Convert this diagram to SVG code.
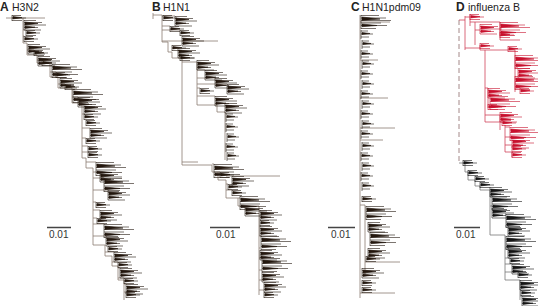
<svg xmlns="http://www.w3.org/2000/svg" xmlns:xlink="http://www.w3.org/1999/xlink" width="538" height="306" viewBox="0 0 538 306">
<style>
.lbl{font-family:"Liberation Sans",Arial,sans-serif;font-size:10.5px;fill:#222}
.bold{font-weight:bold;font-size:12px}
.sc{font-family:"Liberation Sans",Arial,sans-serif;font-size:10px;fill:#333333}
.bar{stroke:#444;stroke-width:1.4;fill:none}
.br{fill:none;stroke:#8a7b72;stroke-width:0.8}
.lv{fill:#24180f;stroke:#24180f;stroke-width:0.6}
.brr{fill:none;stroke:#d0455a;stroke-width:0.8}
.lvr{fill:#c8102e;stroke:#c8102e;stroke-width:0.6}
.brk{fill:none;stroke:#777;stroke-width:0.8}
.lvk{fill:#151515;stroke:#151515;stroke-width:0.6}
</style>
<defs>
<path id="k1" d="M0,0V10M0,0.5h12M0,2.5h18M0,5h22M0,7.5h14M0,10h17M1,2l13,1.5l-13,1.5zM1,6l10,1.2l-10,1.2z"/>
<path id="k2" d="M0,0V6M0,0.5h9M0,3h14M0,5.5h10M1,1.5l9,1.2l-9,1.2z"/>
<path id="k3" d="M0,0V14M0,0.5h18M0,3h25M0,5.5h30M0,8h20M0,10.5h26M0,13.5h15M1,2l18,2l-18,1.5zM1,9l15,1.5l-15,1.2z"/>
<path id="k4" d="M0,0V9M0,1h7M0,4h12M0,7h8M1,2.5l8,1l-8,1z"/>
</defs>

<g id="labels">
<text class="lbl bold" x="0" y="10.5">A</text><text class="lbl" x="12" y="10.5">H3N2</text>
<text class="lbl bold" x="152" y="10.5">B</text><text class="lbl" x="163" y="10.5">H1N1</text>
<text class="lbl bold" x="351" y="10.5">C</text><text class="lbl" x="362" y="10.5">H1N1pdm09</text>
<text class="lbl bold" x="456" y="10.5">D</text><text class="lbl" x="468" y="10.5">influenza B</text>
</g>

<g id="scales">
<path class="bar" d="M47,227.5H71M210,227.5H240M328,227.5H355M454,227.5H480"/>
<text class="sc" x="49" y="238">0.01</text>
<text class="sc" x="216" y="238">0.01</text>
<text class="sc" x="331" y="238">0.01</text>
<text class="sc" x="456" y="238">0.01</text>
</g>

<g id="treeA">
<path class="br" d="M6,18H45M23,18V43H27V55H37V63H50V77H58V88H72V103H82V158H86V168H93V245H105V256H112V266H118V280H124V300M23,30H26M23,36H24M27,50H34M37,60H42M50,72H56M58,84H65M72,97H78M82,114H84M82,128H90M82,138H86M82,146H88M82,152H88M86,162H96M93,172H100M93,178H104M93,190H108M93,202H96M93,210H100M93,218H97M93,224H104M93,236H106M105,252H114M112,262H118M118,268H120M118,278H124M124,284H126M124,292H126"/>
<g class="lv">
<use xlink:href="#k2" x="12" y="15"/><use xlink:href="#k1" x="24" y="20"/><use xlink:href="#k2" x="26" y="30"/><use xlink:href="#k2" x="24" y="36"/>
<use xlink:href="#k1" x="28" y="44"/><use xlink:href="#k2" x="34" y="50"/><use xlink:href="#k1" x="38" y="56"/><use xlink:href="#k2" x="42" y="60"/>
<use xlink:href="#k3" x="52" y="64"/><use xlink:href="#k2" x="56" y="72"/><use xlink:href="#k1" x="60" y="78"/><use xlink:href="#k2" x="65" y="84"/>
<use xlink:href="#k3" x="73" y="89"/><use xlink:href="#k1" x="78" y="97"/><use xlink:href="#k1" x="84" y="104"/><use xlink:href="#k2" x="84" y="114"/>
<use xlink:href="#k2" x="86" y="120"/><use xlink:href="#k1" x="90" y="128"/><use xlink:href="#k2" x="86" y="138"/><use xlink:href="#k2" x="88" y="146"/>
<use xlink:href="#k2" x="88" y="152"/><use xlink:href="#k3" x="96" y="162"/><use xlink:href="#k1" x="100" y="172"/><use xlink:href="#k3" x="104" y="178"/>
<use xlink:href="#k1" x="108" y="190"/><use xlink:href="#k2" x="96" y="202"/><use xlink:href="#k1" x="100" y="210"/><use xlink:href="#k2" x="97" y="218"/>
<use xlink:href="#k3" x="104" y="224"/><use xlink:href="#k1" x="106" y="236"/><use xlink:href="#k2" x="108" y="246"/><use xlink:href="#k1" x="114" y="252"/>
<use xlink:href="#k2" x="118" y="262"/><use xlink:href="#k1" x="120" y="268"/><use xlink:href="#k2" x="124" y="278"/><use xlink:href="#k1" x="126" y="284"/>
<use xlink:href="#k2" x="126" y="292"/>
</g>
</g>

<g id="treeB">
<path class="br" d="M153,13V19M153,15H162V42H168V52H172V58H182V165M162,41H218M182,62H197V105H217V112H225V160M182,162H198M182,165H212V172H218V180H226V198H238V206H259V295M226,176H280M162,16H175M162,26H170M162,30H180M172,48H178M182,55H180M197,70H205M197,78H215M197,84H227M197,88H200M197,96H215M212,164H214M218,172H220M226,184H228M226,190H232M238,198H240M259,210H260M259,226H260M259,236H262M259,248H260M259,258H262M259,270H262M259,280H264M259,290H264"/>
<g class="lv">
<use xlink:href="#k2" x="163" y="15"/><use xlink:href="#k1" x="175" y="16"/><use xlink:href="#k2" x="170" y="26"/><use xlink:href="#k2" x="180" y="30"/>
<use xlink:href="#k1" x="182" y="36"/><use xlink:href="#k2" x="172" y="45"/><use xlink:href="#k1" x="178" y="48"/><use xlink:href="#k2" x="180" y="55"/>
<use xlink:href="#k1" x="197" y="60"/><use xlink:href="#k1" x="205" y="70"/><use xlink:href="#k1" x="215" y="78"/><use xlink:href="#k1" x="227" y="84"/>
<use xlink:href="#k2" x="200" y="88"/><use xlink:href="#k1" x="215" y="96"/><use xlink:href="#k1" x="225" y="103"/>
<use xlink:href="#k4" x="226" y="113"/><use xlink:href="#k4" x="226" y="123"/><use xlink:href="#k4" x="227" y="133"/><use xlink:href="#k4" x="226" y="143"/><use xlink:href="#k4" x="227" y="152"/>
<use xlink:href="#k3" x="214" y="164"/><use xlink:href="#k2" x="220" y="172"/><use xlink:href="#k1" x="232" y="176"/><use xlink:href="#k2" x="228" y="184"/>
<use xlink:href="#k2" x="232" y="190"/><use xlink:href="#k3" x="240" y="196"/><use xlink:href="#k1" x="245" y="206"/><use xlink:href="#k1" x="260" y="210"/>
<use xlink:href="#k2" x="260" y="220"/><use xlink:href="#k1" x="260" y="226"/><use xlink:href="#k3" x="261" y="236"/><use xlink:href="#k1" x="260" y="250"/>
<use xlink:href="#k3" x="262" y="258"/><use xlink:href="#k1" x="262" y="272"/><use xlink:href="#k1" x="264" y="282"/><use xlink:href="#k2" x="264" y="292"/>
</g>
</g>

<g id="treeC">
<path class="br" d="M360,15V298M360,205H365V275M360,22H390M360,60H378M360,98H388M360,128H395M360,140H383M365,262H400M360,293H395"/>
<g class="lv">
<use xlink:href="#k3" x="361" y="15"/><use xlink:href="#k4" x="361" y="30"/><use xlink:href="#k4" x="362" y="40"/><use xlink:href="#k4" x="361" y="50"/>
<use xlink:href="#k4" x="362" y="60"/><use xlink:href="#k4" x="361" y="70"/><use xlink:href="#k4" x="362" y="80"/><use xlink:href="#k4" x="361" y="90"/>
<use xlink:href="#k4" x="362" y="100"/><use xlink:href="#k4" x="361" y="110"/><use xlink:href="#k4" x="362" y="120"/><use xlink:href="#k4" x="361" y="130"/>
<use xlink:href="#k4" x="362" y="142"/><use xlink:href="#k4" x="361" y="152"/><use xlink:href="#k4" x="362" y="162"/><use xlink:href="#k4" x="361" y="172"/>
<use xlink:href="#k4" x="362" y="182"/><use xlink:href="#k2" x="362" y="196"/>
<use xlink:href="#k3" x="366" y="206"/><use xlink:href="#k1" x="368" y="222"/><use xlink:href="#k3" x="370" y="232"/><use xlink:href="#k1" x="368" y="248"/>
<use xlink:href="#k2" x="366" y="256"/><use xlink:href="#k1" x="362" y="268"/><use xlink:href="#k2" x="362" y="280"/><use xlink:href="#k2" x="362" y="287"/>
</g>
</g>

<g id="treeD">
<path fill="none" stroke="#9a7a7a" stroke-width="0.9" stroke-dasharray="5 3" d="M459,20V163"/>
<path class="brr" d="M459,20H465M465,16V50M465,17H470M470,14V26M470,22H475V45M475,22H500V40M465,48H480M480,45V50M480,50H485V122M485,50H515V92M485,88H488V108M485,115H500V130M485,122H505M505,125V152H512V157M500,40H520M475,30H480M515,68H518M515,88H520M488,96H490M505,127H510M505,137H512M505,145H512"/>
<g class="lvr">
<use xlink:href="#k2" x="470" y="14"/><use xlink:href="#k1" x="480" y="24"/><use xlink:href="#k3" x="500" y="22"/><use xlink:href="#k2" x="500" y="32"/>
<use xlink:href="#k2" x="480" y="43"/><use xlink:href="#k2" x="508" y="46"/><use xlink:href="#k3" x="515" y="55"/><use xlink:href="#k1" x="518" y="68"/>
<use xlink:href="#k3" x="515" y="76"/><use xlink:href="#k2" x="520" y="88"/><use xlink:href="#k1" x="488" y="88"/><use xlink:href="#k3" x="490" y="96"/>
<use xlink:href="#k2" x="488" y="104"/><use xlink:href="#k1" x="500" y="112"/><use xlink:href="#k2" x="502" y="120"/><use xlink:href="#k3" x="510" y="127"/>
<use xlink:href="#k1" x="512" y="138"/><use xlink:href="#k2" x="512" y="146"/><use xlink:href="#k2" x="512" y="152"/>
</g>
<path class="brk" d="M459,163H465V172H468V180H475V186H480V190H490V235H505V280H520V300M490,196H492M490,206H492M505,214H506M505,226H508M505,248H508M505,258H510M505,264H512M505,272H518M520,290H521M520,296H522"/>
<g class="lvk">
<use xlink:href="#k2" x="463" y="160"/><use xlink:href="#k2" x="468" y="170"/><use xlink:href="#k2" x="475" y="176"/><use xlink:href="#k2" x="480" y="182"/>
<use xlink:href="#k1" x="490" y="187"/><use xlink:href="#k3" x="492" y="196"/><use xlink:href="#k1" x="492" y="208"/><use xlink:href="#k3" x="506" y="214"/>
<use xlink:href="#k1" x="508" y="226"/><use xlink:href="#k3" x="506" y="236"/><use xlink:href="#k1" x="508" y="248"/><use xlink:href="#k2" x="510" y="258"/>
<use xlink:href="#k1" x="512" y="264"/><use xlink:href="#k2" x="518" y="272"/><use xlink:href="#k1" x="520" y="280"/><use xlink:href="#k2" x="521" y="290"/>
<use xlink:href="#k1" x="522" y="296"/>
</g>
</g>
</svg>
